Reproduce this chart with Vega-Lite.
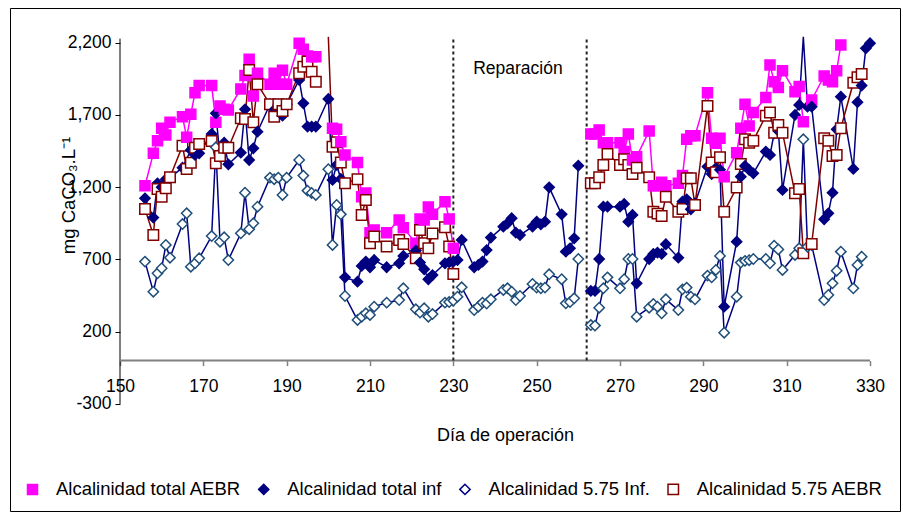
{
  "$schema": "https://vega.github.io/schema/vega-lite/v6.json",
  "width": 890,
  "height": 503,
  "autosize": "none",
  "padding": {"left": 10, "top": 8, "right": 3, "bottom": 8},
  "background": "white",
  "config": {
    "font": "Liberation Sans",
    "view": {"stroke": "#000000", "strokeWidth": 1}
  },
  "datasets": {
    "nombres": [
      {"k": "a", "n": "Alcalinidad total AEBR"},
      {"k": "b", "n": "Alcalinidad total inf"},
      {"k": "c", "n": "Alcalinidad 5.75 Inf."},
      {"k": "e", "n": "Alcalinidad 5.75 AEBR"}
    ],
    "alc": [
      {"dia":156,"a":1210,"b":1123,"c":685,"e":1049},
      {"dia":158,"a":1434,"b":990,"c":477,"e":869},
      {"dia":159,"a":1522,"b":1227,"c":604,"e":1188},
      {"dia":160,"a":1608,"b":1200,"c":639,"e":1134},
      {"dia":161,"a":1561,"b":1255,"c":800,"e":1192},
      {"dia":162,"a":1649,"b":1266,"c":712,"e":1268},
      {"dia":165,"a":1688,"b":1335,"c":945,"e":1487},
      {"dia":166,"a":1545,"c":1019,"e":1326},
      {"dia":167,"a":1704,"b":1457,"c":650,"e":1369},
      {"dia":168,"a":1854,"b":1423,"c":673,"e":1473},
      {"dia":169,"a":1903,"b":1434,"c":708,"e":1499},
      {"dia":172,"a":1903,"b":1568,"c":862,"e":1520},
      {"dia":173,"a":1649,"b":1711,"c":1476,"e":1365},
      {"dia":174,"a":1762,"b":1411,"c":823,"e":1416},
      {"dia":175,"a":1740,"b":1508,"c":853,"e":1473},
      {"dia":176,"a":1734,"b":1358,"c":696,"e":1473},
      {"dia":179,"a":1880,"b":1439,"c":881,"e":1677},
      {"dia":180,"a":1972,"b":1739,"c":1162,"e":1672},
      {"dia":181,"a":2085,"b":1388,"c":909,"e":2011},
      {"dia":182,"a":1831,"b":1469,"c":950,"e":1649},
      {"dia":183,"a":1988,"b":1584,"c":1065,"e":1912},
      {"dia":186,"a":1912,"b":1774,"c":1266,"e":1774},
      {"dia":187,"a":1988,"b":1734,"c":1255,"e":1688},
      {"dia":188,"a":1912,"b":1774,"c":1266,"e":1774},
      {"dia":189,"a":2009,"b":1695,"c":1146,"e":1727},
      {"dia":190,"a":1912,"b":1774,"c":1266,"e":1774},
      {"dia":193,"a":2196,"b":1942,"c":1388,"e":1988},
      {"dia":194,"a":2154,"b":1780,"c":1280,"e":2034},
      {"dia":195,"a":2108,"b":1619,"c":1176,"e":2069},
      {"dia":196,"a":2103,"b":1619,"c":1160,"e":1999},
      {"dia":197,"a":2103,"b":1619,"c":1146,"e":1930},
      {"dia":198,"e":null},
      {"dia":200,"a":null,"b":1810,"c":1324,"e":2240},
      {"dia":201,"a":1608,"b":1250,"c":800,"e":1480},
      {"dia":202,"a":1600,"b":1354,"c":1077,"e":1511},
      {"dia":203,"a":1515,"b":1257,"c":1012,"e":1370},
      {"dia":204,"a":1423,"b":576,"c":447,"e":1227},
      {"dia":207,"a":1370,"b":546,"c":281,"e":1255},
      {"dia":208,"a":1134,"b":655,"c":304,"e":1008},
      {"dia":209,"a":1160,"b":685,"c":327,"e":1111},
      {"dia":210,"a":885,"b":646,"c":316,"e":812},
      {"dia":211,"a":904,"b":696,"c":373,"e":858},
      {"dia":214,"a":885,"b":646,"c":401,"e":789},
      {"dia":217,"a":973,"b":673,"c":419,"e":835},
      {"dia":218,"a":920,"b":724,"c":500,"e":807},
      {"dia":221,"a":812,"b":761,"c":355,"e":708},
      {"dia":222,"a":980,"b":678,"c":332,"e":904},
      {"dia":223,"a":973,"b":632,"c":362,"e":812},
      {"dia":224,"a":1063,"b":563,"c":304,"e":777},
      {"dia":225,"a":1012,"b":592,"c":322,"e":879},
      {"dia":228,"a":1099,"b":673,"c":401,"e":922},
      {"dia":229,"a":980,"b":680,"c":405,"e":789},
      {"dia":230,"a":777,"b":685,"c":415,"e":599},
      {"dia":231,"a":null,"b":696,"c":442,"e":null},
      {"dia":232,"b":835,"c":507},
      {"dia":235,"b":646,"c":350},
      {"dia":236,"b":662,"c":373},
      {"dia":237,"b":685,"c":401},
      {"dia":238,"b":765,"c":395},
      {"dia":239,"b":851,"c":424},
      {"dia":242,"b":927,"c":489},
      {"dia":243,"b":950,"c":500},
      {"dia":244,"b":985,"c":477},
      {"dia":245,"b":885,"c":419},
      {"dia":246,"b":869,"c":447},
      {"dia":249,"b":927,"c":530},
      {"dia":250,"b":961,"c":505},
      {"dia":251,"b":943,"c":500},
      {"dia":252,"b":961,"c":505},
      {"dia":253,"b":1199,"c":597},
      {"dia":256,"b":1012,"c":563},
      {"dia":257,"b":754,"c":396},
      {"dia":258,"b":777,"c":405},
      {"dia":259,"b":846,"c":431},
      {"dia":260,"b":1349,"c":703},
      {"dia":262,"b":null,"c":null},
      {"dia":263,"a":1568,"b":482,"c":246,"e":1227},
      {"dia":264,"a":1568,"b":482,"c":242,"e":1227},
      {"dia":265,"a":1596,"b":703,"c":366,"e":1268},
      {"dia":266,"a":1508,"b":1065,"c":500,"e":1354},
      {"dia":267,"a":1508,"b":1065,"c":576,"e":1430},
      {"dia":270,"a":1508,"b":1065,"c":500,"e":1354},
      {"dia":271,"a":1446,"b":1084,"c":563,"e":1393},
      {"dia":272,"a":1568,"b":961,"c":703,"e":1354},
      {"dia":273,"a":1388,"b":1008,"c":703,"e":1291},
      {"dia":274,"a":1411,"b":535,"c":304,"e":1335},
      {"dia":277,"a":1589,"b":703,"c":366,"e":1268},
      {"dia":278,"a":1210,"b":738,"c":392,"e":1030},
      {"dia":279,"a":1210,"b":747,"c":373,"e":1017},
      {"dia":280,"a":1234,"b":738,"c":327,"e":1000},
      {"dia":281,"a":1210,"b":805,"c":424,"e":1134},
      {"dia":284,"a":1227,"b":712,"c":350,"e":1030},
      {"dia":285,"a":1280,"b":1100,"c":493,"e":1049},
      {"dia":286,"a":1531,"b":1116,"c":505,"e":1261},
      {"dia":287,"a":1556,"b":1047,"c":442,"e":1261},
      {"dia":288,"a":1556,"b":1087,"c":424,"e":1077},
      {"dia":291,"a":1854,"b":1342,"c":588,"e":1762},
      {"dia":292,"a":1538,"b":1291,"c":576,"e":1370},
      {"dia":293,"a":1504,"b":1331,"c":627,"e":1303},
      {"dia":294,"a":1538,"b":1320,"c":724,"e":1407},
      {"dia":295,"a":1273,"b":373,"c":193,"e":1030},
      {"dia":298,"a":1439,"b":823,"c":442,"e":1197},
      {"dia":299,"a":1608,"b":1273,"c":678,"e":1360},
      {"dia":300,"a":1774,"b":1347,"c":690,"e":1531},
      {"dia":301,"a":1624,"b":1319,"c":695,"e":1508},
      {"dia":302,"a":1716,"b":1296,"c":703,"e":1522},
      {"dia":305,"a":1820,"b":1446,"c":703,"e":1695},
      {"dia":306,"a":2046,"b":1423,"c":673,"e":1716},
      {"dia":307,"a":1930,"b":1573,"c":795,"e":1577},
      {"dia":308,"a":1889,"b":1589,"c":769,"e":1630},
      {"dia":309,"a":2006,"b":1181,"c":627,"e":1577},
      {"dia":312,"a":1861,"b":1700,"c":731,"e":1158},
      {"dia":313,"a":1896,"b":1769,"c":777,"e":1188},
      {"dia":314,"a":1653,"b":2240,"c":1531,"e":742},
      {"dia":315,"a":null,"b":1757,"c":788,"e":null},
      {"dia":316,"a":1803,"b":1757,"c":800,"e":807},
      {"dia":319,"a":1970,"b":978,"c":419,"e":1538},
      {"dia":320,"a":1942,"b":1019,"c":454,"e":1522},
      {"dia":321,"a":1930,"b":1162,"c":535,"e":1416},
      {"dia":322,"a":2006,"b":1600,"c":622,"e":1423},
      {"dia":323,"a":2184,"b":1826,"c":754,"e":1608},
      {"dia":326,"b":1326,"c":500,"e":1923},
      {"dia":327,"b":1788,"c":662,"e":1960},
      {"dia":328,"b":1903,"c":719,"e":1983},
      {"dia":329,"b":2161},
      {"dia":330,"b":2196}
    ]
  },
  "encoding": {
    "x": {
      "field": "dia", "type": "quantitative",
      "scale": {"domain": [123.6, 337.2], "nice": false, "zero": false},
      "axis": {
        "values": [150, 170, 190, 210, 230, 250, 270, 290, 310, 330],
        "offset": -150.4, "domain": false, "grid": false,
        "tickSize": 5, "tickColor": "#808080", "tickWidth": 1.5,
        "labelFontSize": 17.5, "labelColor": "#000000", "labelPadding": 12, "labelFlush": false, "labelOverlap": false,
        "title": "Día de operación", "titleFontSize": 18, "titleFontWeight": "normal", "titleColor": "#000000",
        "titleX": 495, "titleY": 75, "titleAlign": "center", "titleBaseline": "middle"
      }
    },
    "y": {
      "field": "valor", "type": "quantitative",
      "scale": {"domain": [-1040.7, 2439.8], "nice": false, "zero": false},
      "axis": {
        "values": [-300, 200, 700, 1200, 1700, 2200],
        "labelExpr": "datum.value < 0 ? '-' + format(-datum.value, ',') : format(datum.value, ',')",
        "offset": -110, "domain": false, "grid": false,
        "tickSize": 5, "tickColor": "#000000", "tickWidth": 1,
        "labelFontSize": 17.5, "labelColor": "#000000", "labelPadding": 4, "labelOverlap": false,
        "title": "mg CaCO₃.L⁻¹", "titleFontSize": 18.5, "titleFontWeight": "normal", "titleColor": "#000000",
        "titleAngle": -90, "titleX": -52, "titleY": 187, "titleAlign": "center", "titleBaseline": "middle"
      }
    }
  },
  "layer": [
    {
      "data": {"values": [{"dia": 150, "valor": -300, "valor2": 2228}]},
      "mark": {"type": "rule", "color": "#000000", "strokeWidth": 1},
      "encoding": {"y2": {"field": "valor2"}}
    },
    {
      "data": {"values": [{"dia": 150, "dia2": 330, "valor": 0}]},
      "mark": {"type": "rule", "color": "#808080", "strokeWidth": 2},
      "encoding": {"x2": {"field": "dia2"}}
    },
    {
      "data": {"values": [{"dia": 230, "valor": 0, "valor2": 2240}, {"dia": 262, "valor": 0, "valor2": 2240}]},
      "mark": {"type": "rule", "color": "#222222", "strokeWidth": 2, "strokeDash": [3, 3]},
      "encoding": {"y2": {"field": "valor2"}}
    },
    {
      "data": {"name": "alc"},
      "transform": [
        {"fold": ["a", "b", "c", "e"], "as": ["serie", "valor"]},
        {"filter": "isDefined(datum.valor)"},
        {"lookup": "serie", "from": {"data": {"name": "nombres"}, "key": "k", "fields": ["n"]}}
      ],
      "mark": {"type": "line", "strokeWidth": 1.5, "invalid": "break-paths-filter-domains"},
      "encoding": {
        "color": {
          "field": "n", "type": "nominal",
          "scale": {"domain": ["Alcalinidad total AEBR", "Alcalinidad total inf", "Alcalinidad 5.75 Inf.", "Alcalinidad 5.75 AEBR"], "range": ["#FF00FF", "#000080", "#000080", "#800000"]},
          "legend": {
            "orient": "none", "legendX": 13.25, "legendY": 472, "direction": "horizontal", "columns": 4,
            "title": null, "labelFontSize": 18.5, "labelColor": "#000000", "labelLimit": 400,
            "labelOffset": 14.25, "columnPadding": 13.25, "symbolSize": 64, "symbolStrokeWidth": 1.5
          }
        }
      }
    },
    {
      "data": {"name": "alc"},
      "transform": [
        {"fold": ["a", "b", "c", "e"], "as": ["serie", "valor"]},
        {"filter": "isValid(datum.valor) && datum.valor < 2235"},
        {"lookup": "serie", "from": {"data": {"name": "nombres"}, "key": "k", "fields": ["n"]}}
      ],
      "mark": {"type": "point", "strokeWidth": 1.5, "opacity": 1},
      "encoding": {
        "shape": {
          "field": "n", "type": "nominal",
          "scale": {"domain": ["Alcalinidad total AEBR", "Alcalinidad total inf", "Alcalinidad 5.75 Inf.", "Alcalinidad 5.75 AEBR"], "range": ["square", "diamond", "diamond", "square"]},
          "legend": {
            "orient": "none", "legendX": 13.25, "legendY": 472, "direction": "horizontal", "columns": 4,
            "title": null, "labelFontSize": 18.5, "labelColor": "#000000", "labelLimit": 400,
            "labelOffset": 14.25, "columnPadding": 13.25, "symbolSize": 64, "symbolStrokeWidth": 1.5
          }
        },
        "size": {
          "field": "n", "type": "nominal",
          "scale": {"domain": ["Alcalinidad total AEBR", "Alcalinidad total inf", "Alcalinidad 5.75 Inf.", "Alcalinidad 5.75 AEBR"], "range": [100, 110, 100, 72]},
          "legend": null
        },
        "fill": {
          "field": "n", "type": "nominal",
          "scale": {"domain": ["Alcalinidad total AEBR", "Alcalinidad total inf", "Alcalinidad 5.75 Inf.", "Alcalinidad 5.75 AEBR"], "range": ["#FF00FF", "#000080", "#FFFFFF", "#FFFFFF"]},
          "legend": null
        },
        "stroke": {
          "field": "n", "type": "nominal",
          "scale": {"domain": ["Alcalinidad total AEBR", "Alcalinidad total inf", "Alcalinidad 5.75 Inf.", "Alcalinidad 5.75 AEBR"], "range": ["#FF00FF", "#000080", "#1F4E79", "#800000"]},
          "legend": null
        }
      }
    },
    {
      "data": {"values": [{"dia": 245.5, "valor": 2018, "t": "Reparación"}]},
      "mark": {"type": "text", "fontSize": 17.5, "align": "center", "baseline": "middle", "color": "#000000"},
      "encoding": {"text": {"field": "t"}}
    }
  ]
}
